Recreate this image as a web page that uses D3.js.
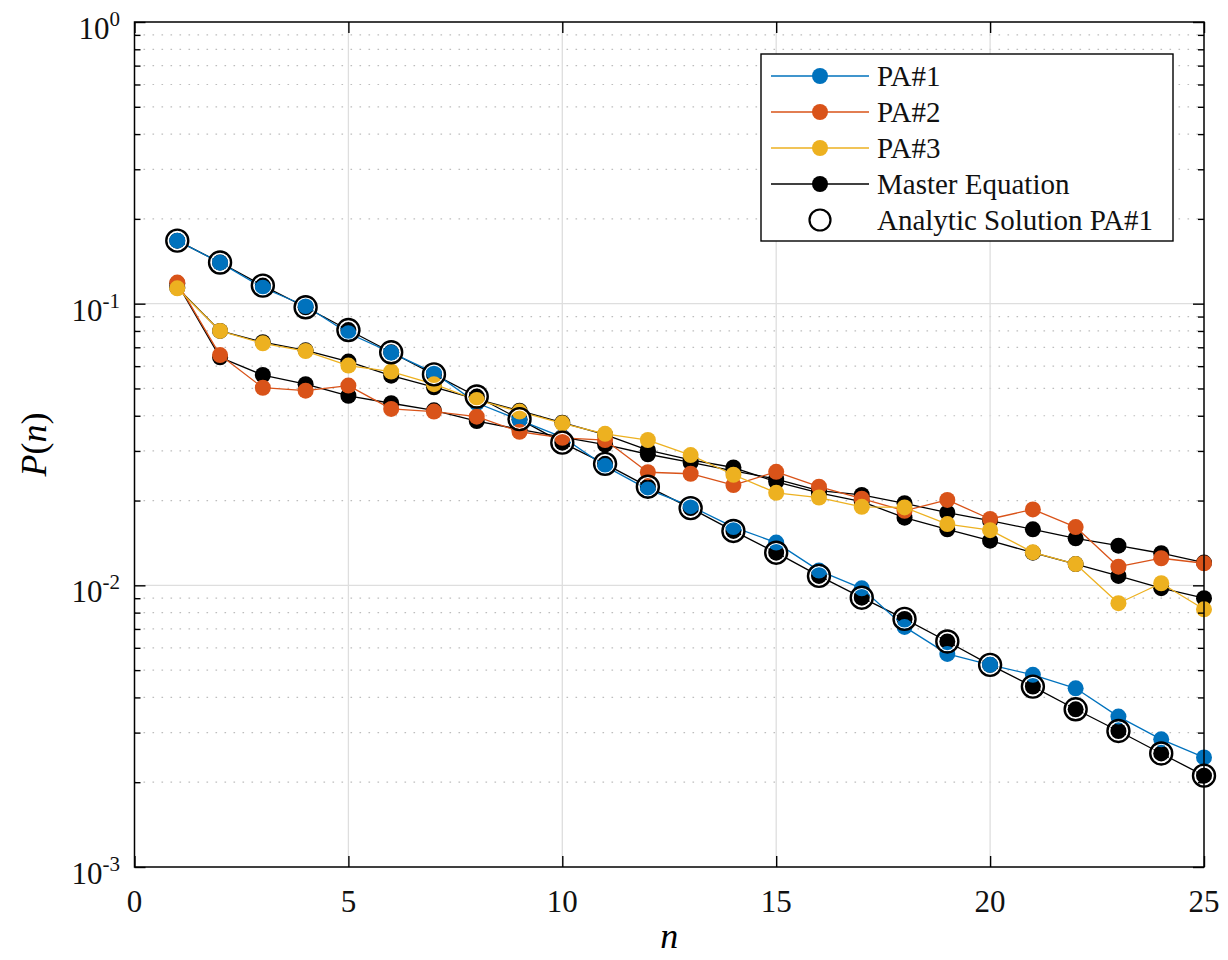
<!DOCTYPE html>
<html>
<head>
<meta charset="utf-8">
<script src="https://cdn.jsdelivr.net/npm/d3@7"></script>
<style>
  html, body { margin: 0; padding: 0; background: #fff; }
  svg { display: block; font-family: "Liberation Serif", "Times New Roman", serif; }
</style>
</head>
<body>
<svg id="chart" width="1228" height="960"></svg>
<script>
// Cluster size n
const nValues = [1,2,3,4,5,6,7,8,9,10,11,12,13,14,15,16,17,18,19,20,21,22,23,24,25];

// Simulated distributions for the three attachment schemes
const pa1 = [0.1674,0.1398,0.1139,0.0981,0.0785,0.0670,0.0569,0.0444,0.0386,0.0336,0.0265,0.0219,0.0191,0.0161,0.01418,0.01128,0.00976,0.00712,0.00571,0.00522,0.00481,0.00431,0.00342,0.00284,0.00245];
const pa2 = [0.1188,0.0657,0.0503,0.0491,0.0512,0.0423,0.0414,0.0397,0.0351,0.0334,0.0328,0.0252,0.0249,0.0227,0.0253,0.0224,0.0203,0.0184,0.0201,0.0172,0.0186,0.0161,0.01165,0.01248,0.01198];
const pa3 = [0.1134,0.0800,0.0723,0.0679,0.0603,0.0574,0.0518,0.0455,0.0414,0.0376,0.0345,0.0328,0.0290,0.0247,0.0213,0.0205,0.0190,0.0189,0.0165,0.0157,0.0131,0.0119,0.00864,0.01017,0.00822];

// Master-equation curves, one per scheme
const me1 = [0.1674,0.1400,0.1159,0.0971,0.0806,0.0672,0.0561,0.0468,0.0389,0.0321,0.0270,0.0224,0.0188,0.0156,0.01306,0.01080,0.00904,0.00760,0.00632,0.00522,0.00437,0.00363,0.00304,0.00253,0.00211];
const me2 = [0.1180,0.0645,0.0558,0.0518,0.0471,0.0443,0.0418,0.0383,0.0358,0.0336,0.0316,0.0292,0.0273,0.0255,0.02385,0.02169,0.02094,0.01956,0.01811,0.01697,0.01581,0.01469,0.01383,0.01300,0.01204];
const me3 = [0.1140,0.0800,0.0730,0.0683,0.0623,0.0555,0.0505,0.0458,0.0417,0.0378,0.0343,0.0302,0.0279,0.0262,0.0233,0.0213,0.01982,0.01739,0.01581,0.01441,0.01306,0.01190,0.01080,0.00977,0.00900];

// Closed-form result for PA#1
const analytic = [0.1674,0.1400,0.1159,0.0971,0.0806,0.0672,0.0561,0.0468,0.0389,0.0321,0.0270,0.0224,0.0188,0.0156,0.01306,0.01080,0.00904,0.00760,0.00632,0.00522,0.00437,0.00363,0.00304,0.00253,0.00211];

// Axis ticks
const xTicks = [0,5,10,15,20,25];
const yDecades = [1e-3,1e-2,1e-1,1];
const yDecadeExp = ["-3","-2","-1","0"];
const legendLabels = ["PA#1","PA#2","PA#3","Master Equation","Analytic Solution PA#1"];

const colors = { pa1: "#0072BD", pa2: "#D95319", pa3: "#EDB120", me: "#000000" };

const svg = d3.select("#chart");
const L = 134.5, R = 1204, T = 22, B = 867;

const x = d3.scaleLinear().domain([0, 25]).range([L, R]);
const y = d3.scaleLog().domain([1e-3, 1]).range([B, T]);

// minor log positions (2..9 of each decade)
const minorVals = [];
for (let d = 0; d < 3; d++) {
  for (let k = 2; k <= 9; k++) minorVals.push(k * yDecades[d]);
}

const grid = svg.append("g");
// minor dotted grid
grid.selectAll("line.minor").data(minorVals).join("line")
  .attr("x1", L).attr("x2", R)
  .attr("y1", d => y(d)).attr("y2", d => y(d))
  .attr("stroke", "#bdbdbd").attr("stroke-width", 1.2)
  .attr("stroke-dasharray", "1.6,7.4");
// major grid
grid.selectAll("line.majy").data(yDecades.slice(1, 3)).join("line")
  .attr("x1", L).attr("x2", R)
  .attr("y1", d => y(d)).attr("y2", d => y(d))
  .attr("stroke", "#dedede").attr("stroke-width", 1.3);
grid.selectAll("line.majx").data(xTicks.slice(1, 5)).join("line")
  .attr("class", "majx")
  .attr("x1", d => x(d)).attr("x2", d => x(d))
  .attr("y1", T).attr("y2", B)
  .attr("stroke", "#dedede").attr("stroke-width", 1.3);

// Data series
const line = d3.line().x((d, i) => x(nValues[i])).y(d => y(d));
const plotG = svg.append("g");

function drawSeries(vals, color, lw) {
  plotG.append("path").datum(vals)
    .attr("d", line).attr("fill", "none")
    .attr("stroke", color).attr("stroke-width", lw)
    .attr("stroke-linejoin", "round");
  plotG.append("g").selectAll("circle").data(vals).join("circle")
    .attr("cx", (d, i) => x(nValues[i])).attr("cy", d => y(d))
    .attr("r", 8).attr("fill", color);
}

drawSeries(me1, colors.me, 1.3);
drawSeries(me2, colors.me, 1.3);
drawSeries(me3, colors.me, 1.3);
drawSeries(pa1, colors.pa1, 1.3);
drawSeries(pa2, colors.pa2, 1.3);
drawSeries(pa3, colors.pa3, 1.3);

// Analytic solution rings
const ringG = plotG.append("g");
ringG.selectAll("circle.halo").data(analytic).join("circle")
  .attr("cx", (d, i) => x(nValues[i])).attr("cy", d => y(d))
  .attr("r", 9.3).attr("fill", "none")
  .attr("stroke", "#fff").attr("stroke-width", 1.2);
ringG.selectAll("circle.ring").data(analytic).join("circle")
  .attr("class", "ring")
  .attr("cx", (d, i) => x(nValues[i])).attr("cy", d => y(d))
  .attr("r", 11).attr("fill", "none")
  .attr("stroke", "#000").attr("stroke-width", 2.4);

// Axes box and ticks
const axG = svg.append("g").attr("stroke", "#000").attr("fill", "none");
axG.append("rect").attr("x", L).attr("y", T).attr("width", R - L).attr("height", B - T)
  .attr("stroke-width", 1.5);

const bottomAxis = d3.axisBottom(x).tickValues(xTicks).tickSize(-11).tickFormat("");
const topAxis = d3.axisTop(x).tickValues(xTicks).tickSize(-11).tickFormat("");
const leftAxis = d3.axisLeft(y).tickValues(yDecades).tickSize(-11).tickFormat("");
const rightAxis = d3.axisRight(y).tickValues(yDecades).tickSize(-11).tickFormat("");
const leftMinor = d3.axisLeft(y).tickValues(minorVals).tickSize(-6).tickFormat("");
const rightMinor = d3.axisRight(y).tickValues(minorVals).tickSize(-6).tickFormat("");

function styleAxis(g) {
  g.select(".domain").remove();
  g.selectAll(".tick line").attr("stroke", "#000").attr("stroke-width", 1.4);
}
svg.append("g").attr("transform", `translate(0,${B})`).call(bottomAxis).call(styleAxis);
svg.append("g").attr("transform", `translate(0,${T})`).call(topAxis).call(styleAxis);
svg.append("g").attr("transform", `translate(${L},0)`).call(leftAxis).call(styleAxis);
svg.append("g").attr("transform", `translate(${R},0)`).call(rightAxis).call(styleAxis);
svg.append("g").attr("transform", `translate(${L},0)`).call(leftMinor).call(styleAxis);
svg.append("g").attr("transform", `translate(${R},0)`).call(rightMinor).call(styleAxis);

// Tick labels
const labelG = svg.append("g").attr("fill", "#111");
labelG.selectAll("text.xt").data(xTicks).join("text")
  .attr("x", d => x(d)).attr("y", 912)
  .attr("text-anchor", "middle").attr("font-size", 31)
  .text(d => d);

yDecades.forEach((v, i) => {
  const t = labelG.append("text")
    .attr("x", 120).attr("y", y(v) + 17)
    .attr("text-anchor", "end").attr("font-size", 31);
  t.append("tspan").text("10");
  t.append("tspan").attr("dy", -13).attr("font-size", 21).text(yDecadeExp[i]);
});

// Axis titles
svg.append("text")
  .attr("transform", `translate(46,${(T + B) / 2}) rotate(-90)`)
  .attr("text-anchor", "middle").attr("font-size", 36)
  .html('<tspan font-style="italic">P</tspan>(<tspan font-style="italic">n</tspan>)');
svg.append("text")
  .attr("x", (L + R) / 2).attr("y", 948)
  .attr("text-anchor", "middle").attr("font-size", 36)
  .attr("font-style", "italic").text("n");

// Legend
const lg = svg.append("g");
lg.append("rect").attr("x", 761).attr("y", 54).attr("width", 412).attr("height", 187)
  .attr("fill", "#fff").attr("stroke", "#000").attr("stroke-width", 1.4);
const legendColors = [colors.pa1, colors.pa2, colors.pa3, colors.me, null];
legendLabels.forEach((lab, i) => {
  const cy = 76 + i * 36;
  const c = legendColors[i];
  if (c) {
    lg.append("line").attr("x1", 771).attr("x2", 869).attr("y1", cy).attr("y2", cy)
      .attr("stroke", c).attr("stroke-width", 1.3);
    lg.append("circle").attr("cx", 820).attr("cy", cy).attr("r", 8).attr("fill", c);
  } else {
    lg.append("circle").attr("cx", 820).attr("cy", cy).attr("r", 10.5)
      .attr("fill", "none").attr("stroke", "#000").attr("stroke-width", 2.2);
  }
  lg.append("text").attr("x", 877).attr("y", cy + 9.5)
    .attr("font-size", 29).attr("fill", "#111").text(lab);
});
</script>
</body>
</html>
